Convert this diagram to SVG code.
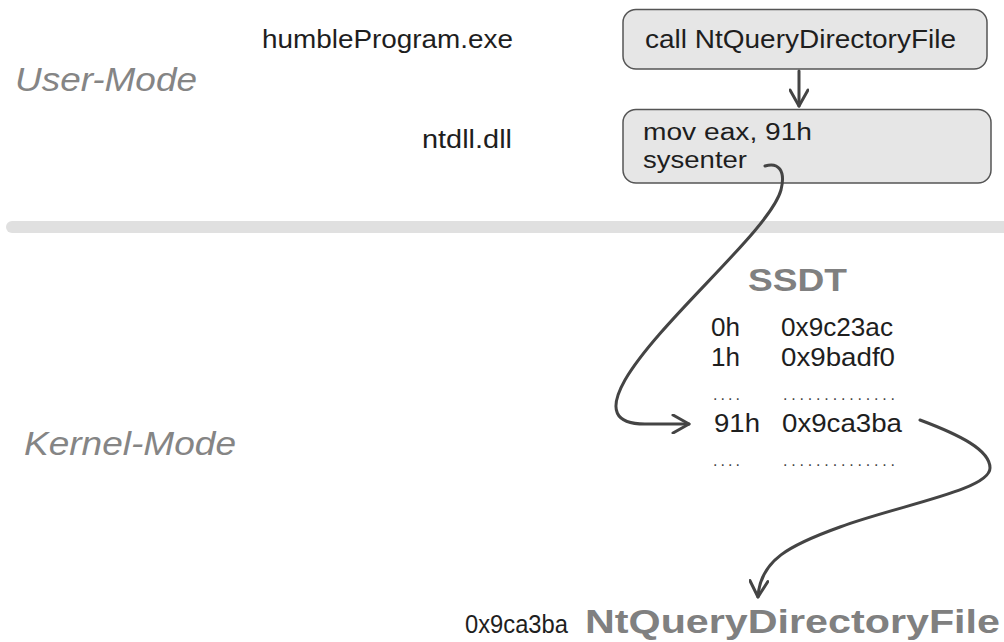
<svg xmlns="http://www.w3.org/2000/svg" width="1004" height="642" viewBox="0 0 1004 642">
  <style>
    .txt { font-family: "Liberation Sans", Arial, sans-serif; fill: #1e1e1e; font-size: 26px; }
    .code { font-family: "Liberation Sans", Arial, sans-serif; fill: #1e1e1e; font-size: 23px; }
    .mode { font-family: "Liberation Sans", Arial, sans-serif; fill: #858585; font-size: 34px; font-style: italic; }
    .title { font-family: "Liberation Sans", Arial, sans-serif; fill: #808080; font-weight: bold; }
    .box { fill: #e6e6e6; stroke: #555555; stroke-width: 1.5; }
    .link { fill: none; stroke: #444444; stroke-width: 3; stroke-linecap: round; }
    .dots { font-family: "Liberation Sans", Arial, sans-serif; fill: #444444; font-size: 16px; }
  </style>
  <defs>
    <marker id="head" viewBox="0 0 20 20" refX="18" refY="10" markerWidth="20" markerHeight="20" markerUnits="userSpaceOnUse" orient="auto">
      <path d="M2,1 L18,10 L2,19" fill="none" stroke="#444444" stroke-width="3" stroke-linecap="round" stroke-linejoin="round"/>
    </marker>
  </defs>
  <rect width="1004" height="642" fill="#ffffff"/>

  <!-- divider between user and kernel space -->
  <rect x="6" y="221" width="1010" height="12" rx="6" fill="#e0e0e0"/>

  <text class="mode" x="15" y="91" textLength="182" lengthAdjust="spacingAndGlyphs">User-Mode</text>
  <text class="mode" x="24" y="455" textLength="212" lengthAdjust="spacingAndGlyphs">Kernel-Mode</text>

  <text class="txt" x="262" y="48" textLength="251" lengthAdjust="spacingAndGlyphs">humbleProgram.exe</text>
  <text class="txt" x="422" y="148" textLength="90" lengthAdjust="spacingAndGlyphs">ntdll.dll</text>

  <g id="call-box">
    <rect class="box" x="623" y="9.5" width="364" height="59.5" rx="13"/>
    <text class="txt" x="645" y="48" textLength="311" lengthAdjust="spacingAndGlyphs">call NtQueryDirectoryFile</text>
  </g>

  <g id="stub-box">
    <rect class="box" x="623" y="109.5" width="368" height="73.5" rx="13"/>
    <text class="code" x="643" y="140" textLength="169" lengthAdjust="spacingAndGlyphs">mov eax, 91h</text>
    <text class="code" x="643" y="168" textLength="104" lengthAdjust="spacingAndGlyphs">sysenter</text>
  </g>

  <g id="ssdt">
    <text class="title" x="748" y="291" font-size="32" textLength="99" lengthAdjust="spacingAndGlyphs">SSDT</text>
    <text class="txt" x="711" y="336" textLength="29" lengthAdjust="spacingAndGlyphs">0h</text>
    <text class="txt" x="781" y="336" textLength="112" lengthAdjust="spacingAndGlyphs">0x9c23ac</text>
    <text class="txt" x="711" y="366" textLength="29" lengthAdjust="spacingAndGlyphs">1h</text>
    <text class="txt" x="781" y="366" textLength="114" lengthAdjust="spacingAndGlyphs">0x9badf0</text>
    <text class="dots" x="713" y="400" textLength="27" lengthAdjust="spacing">....</text>
    <text class="dots" x="783" y="400" textLength="112" lengthAdjust="spacing">..............</text>
    <text class="txt" x="714" y="432" textLength="46" lengthAdjust="spacingAndGlyphs">91h</text>
    <text class="txt" x="782" y="432" textLength="120" lengthAdjust="spacingAndGlyphs">0x9ca3ba</text>
    <text class="dots" x="713" y="466" textLength="27" lengthAdjust="spacing">....</text>
    <text class="dots" x="783" y="466" textLength="112" lengthAdjust="spacing">..............</text>
  </g>

  <g id="target">
    <text class="txt" x="465" y="633" textLength="103" lengthAdjust="spacingAndGlyphs">0x9ca3ba</text>
    <text class="title" x="585" y="633" font-size="33" textLength="415" lengthAdjust="spacingAndGlyphs">NtQueryDirectoryFile</text>
  </g>

  <g id="connectors">
    <path class="link" d="M799,71 L799,106" marker-end="url(#head)"/>
    <path class="link" d="M765,166 C778,162 786,170 781,190 C770,230 660,320 625,380 C608,410 615,424 645,424 L689,424" marker-end="url(#head)"/>
    <path class="link" d="M920,420 C960,435 990,450 990,468 C990,490 900,505 840,527 C790,545 760,560 758,597" marker-end="url(#head)"/>
  </g>
</svg>
